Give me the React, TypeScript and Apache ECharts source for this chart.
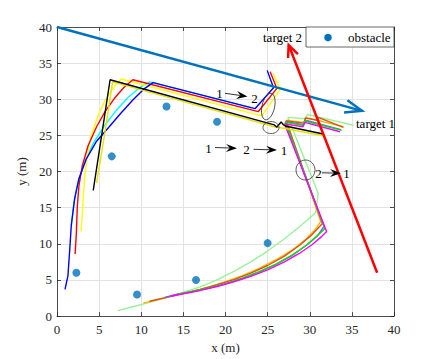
import React, { useEffect, useRef } from "react";
import * as echarts from "echarts";

const FONT = '"Liberation Serif", "Times New Roman", serif';

// obstacles (x, y in m)
const obstacles = [[2.3, 6], [6.5, 22.1], [9.5, 3], [13, 29], [16.5, 5], [19, 26.9], [25, 10.1]];

// target trajectories (start -> arrow tip)
const target1Path = [[0, 40], [36.2, 28.4]];
const target2Path = [[38, 6], [27.5, 37.5]];

// group 1 trajectories
const blueTraj = [[0.95, 3.7], [1.3, 5.6], [1.5, 9], [1.7, 12.6], [2.1, 16.3], [2.6, 19], [3.5, 21.8], [4.7, 24.2], [6.2, 26.2], [7.6, 28.1], [9.0, 29.9], [10.3, 31.4], [11.4, 32.3], [23.5, 28.7], [25.7, 31.6], [24.95, 34.0]];
const cyanTraj = [[1.7, 12.5], [2.0, 15.6], [2.5, 18.6], [3.3, 21.4], [4.3, 23.9], [5.6, 26.3], [7.0, 28.4], [8.4, 30.2], [9.8, 31.6], [11.0, 32.4], [11.4, 32.3], [23.0, 28.85]];
const redTraj = [[2.15, 8.6], [2.3, 11.5], [2.4, 15], [2.6, 18], [3.0, 20.8], [3.7, 23.6], [4.7, 26.2], [5.7, 28.3], [6.8, 30.1], [7.9, 31.6], [9.0, 32.7], [23.9, 28.3], [26.1, 31.5], [25.3, 33.8]];
const yellowTraj = [[2.85, 11.7], [3.0, 14], [3.15, 17], [3.3, 19.5], [3.6, 22.2], [4.1, 25.1], [4.9, 27.8], [5.7, 29.8], [6.5, 31.3], [7.6, 32.8], [24.3, 27.7], [26.5, 31.4], [25.65, 33.6]];
const yellow2Traj = [[4.7, 18.4], [5.7, 25.5], [6.6, 32.4], [25.8, 26.2], [27.1, 25.95], [31.6, 24.95]];
const blackTraj = [[4.3, 17.4], [5.3, 25], [6.3, 32.7], [25.8, 26.45], [26.1, 26.15], [26.35, 26.5], [26.6, 26.85], [26.85, 26.5], [27.1, 26.3], [31.6, 25.2]];

// group 2 trajectories
const lightGreenTraj = [[7.2, 0.75], [9, 1.3], [11, 1.9], [13, 2.55], [15, 3.3], [17, 4.05], [19, 5.0], [21, 6.2], [23, 7.5], [25, 9.0], [27, 10.7], [28.6, 12.2], [29.8, 13.4], [30.7, 14.3], [31.0, 17.0], [27.4, 27.5], [29.5, 27.3], [29.7, 27.9], [35.2, 26.4]];
const goldTraj = [[10.25, 1.8], [12, 2.3], [14, 2.85], [16, 3.4], [18, 4.0], [20, 4.75], [22, 5.6], [24, 6.6], [26, 7.8], [28, 9.2], [29.5, 10.6], [30.6, 11.9], [31.3, 13.1], [27.2, 27.1], [29.3, 26.8], [29.5, 27.5], [34.0, 26.2]];
const darkOrangeTraj = [[11, 2.05], [13, 2.6], [15, 3.15], [17, 3.7], [19, 4.35], [21, 5.05], [23, 5.95], [25, 7.0], [27, 8.3], [28.8, 9.8], [30.2, 11.2], [31.5, 12.8], [27.2, 27.0], [29.3, 26.7], [29.5, 27.4], [30.9, 27.1], [31.0, 27.5], [34.0, 26.1]];
const purpleTraj = [[12.8, 2.6], [14, 2.95], [16, 3.35], [18, 3.85], [20, 4.45], [22, 5.2], [24, 6.1], [26, 7.15], [28, 8.45], [29.6, 9.8], [30.9, 11.1], [31.7, 12.4], [27.1, 26.9], [29.3, 26.5], [29.5, 27.1], [33.7, 25.8]];
const greenTraj = [[14.2, 3.0], [16, 3.4], [18, 3.9], [20, 4.5], [22, 5.25], [24, 6.15], [26, 7.2], [28, 8.5], [29.6, 9.8], [30.8, 11.0], [31.8, 12.1], [27.1, 26.8], [29.2, 26.4], [29.4, 27.0], [33.8, 25.7]];
const magentaTraj = [[13.5, 2.75], [15, 3.1], [17, 3.55], [19, 4.1], [21, 4.75], [23, 5.5], [25, 6.4], [27, 7.5], [28.8, 8.7], [30.3, 9.9], [31.4, 11.0], [32.0, 11.7], [27.0, 26.6], [29.2, 26.2], [29.4, 26.8], [33.6, 25.5]];

const trajectories = [
  { data: lightGreenTraj, color: "#99F299" },
  { data: goldTraj, color: "#FFB300" },
  { data: darkOrangeTraj, color: "#D95319" },
  { data: purpleTraj, color: "#7B5CF0" },
  { data: greenTraj, color: "#00E600" },
  { data: magentaTraj, color: "#FF00FF" },
  { data: cyanTraj, color: "#00FFFF" },
  { data: yellowTraj, color: "#FFFF00" },
  { data: redTraj, color: "#FF0000" },
  { data: blueTraj, color: "#0000FF" },
  { data: yellow2Traj, color: "#E8E000" },
  { data: blackTraj, color: "#000000" },
];

function makeAxis(pos: string, main: boolean, name?: string) {
  return {
    type: "value",
    min: 0,
    max: 40,
    interval: 5,
    position: pos,
    name: main ? name : undefined,
    nameLocation: "middle",
    nameGap: pos === "bottom" ? 21 : 20,
    nameTextStyle: { fontFamily: FONT, fontSize: 13, color: "#262626" },
    axisLine: { show: true, onZero: false, lineStyle: { color: "#262626", width: 0.8 } },
    axisTick: { show: true, inside: true, length: 4, lineStyle: { color: "#262626", width: 0.8 } },
    axisLabel: { show: main, fontFamily: FONT, fontSize: 13, color: "#262626", margin: pos === "bottom" ? 7 : 5 },
    splitLine: { show: main, lineStyle: { color: "#e3e3e3", width: 1 } },
  };
}

function txt(x: number, y: number, text: string, align = "center", size = 13) {
  return {
    type: "text",
    x,
    y,
    z: 80,
    silent: true,
    style: {
      text,
      fill: "#000",
      fontSize: size,
      fontFamily: FONT,
      align,
      verticalAlign: "middle",
      textAlign: align,
      textVerticalAlign: "middle",
    },
  };
}

function annArrow(x1: number, y1: number, x2: number, y2: number) {
  const dx = x2 - x1, dy = y2 - y1;
  const L = Math.hypot(dx, dy);
  const ux = dx / L, uy = dy / L, nx = -uy, ny = ux;
  const hl = 11, hw = 4;
  const bx = x2 - ux * hl, by = y2 - uy * hl;
  const cx = x2 - ux * hl * 0.65, cy = y2 - uy * hl * 0.65;
  return [
    { type: "line", z: 60, silent: true, shape: { x1, y1, x2: cx, y2: cy }, style: { stroke: "#000", lineWidth: 0.8 } },
    {
      type: "polygon", z: 60, silent: true,
      shape: { points: [[x2, y2], [bx + nx * hw, by + ny * hw], [cx, cy], [bx - nx * hw, by - ny * hw]] },
      style: { fill: "#000" },
    },
  ];
}

function ellipse(x: number, y: number, rx: number, ry: number, rot = 0) {
  return {
    type: "ellipse", z: 60, silent: true, x, y, rotation: rot,
    shape: { cx: 0, cy: 0, rx, ry },
    style: { fill: "none", stroke: "#333", lineWidth: 0.8 },
  };
}

export default function App() {
  const ref = useRef<HTMLDivElement>(null);
  useEffect(() => {
    if (!ref.current) return;
    const chart = echarts.init(ref.current, null, { renderer: "svg" });
    const series: any[] = trajectories.map((t) => ({
      type: "line",
      data: t.data,
      symbol: "none",
      showSymbol: false,
      silent: true,
      lineStyle: { color: t.color, width: 1.4 },
      z: 3,
    }));
    series.push(
      { type: "line", data: target1Path, symbol: "none", silent: true, lineStyle: { color: "#0072BD", width: 2.5 }, z: 4 },
      { type: "line", data: target2Path, symbol: "none", silent: true, lineStyle: { color: "#FF0000", width: 2.5 }, z: 4 },
      { type: "scatter", data: obstacles, symbolSize: 8, itemStyle: { color: "#0072BD" }, silent: true, z: 5 }
    );
    chart.setOption({
      animation: false,
      backgroundColor: "#fff",
      grid: { left: 57, right: 42, top: 27, bottom: 40 },
      xAxis: [makeAxis("bottom", true, "x (m)"), makeAxis("top", false)],
      yAxis: [makeAxis("left", true, "y (m)"), makeAxis("right", false)],
      series,
    });

    const px = (p: number[]) => chart.convertToPixel({ gridIndex: 0 }, p) as number[];
    const head = (path: number[][], len: number, ang: number, color: string) => {
      const a = px(path[0]), b = px(path[1]);
      const dx = b[0] - a[0], dy = b[1] - a[1];
      const L = Math.hypot(dx, dy);
      const bxu = -dx / L, byu = -dy / L;
      const rot = (s: number) => {
        const c = Math.cos(s * ang), sn = Math.sin(s * ang);
        return [b[0] + len * (bxu * c - byu * sn), b[1] + len * (bxu * sn + byu * c)];
      };
      return {
        type: "polyline", z: 55, silent: true,
        shape: { points: [rot(1), b, rot(-1)] },
        style: { stroke: color, lineWidth: 2.5, fill: "none" },
      };
    };

    const elements: any[] = [
      head(target1Path, 18, 0.36, "#0072BD"),
      head(target2Path, 13, 0.42, "#FF0000"),
      // legend
      { type: "rect", z: 70, silent: true, shape: { x: 306, y: 27, width: 88, height: 20 }, style: { fill: "#fff", stroke: "#262626", lineWidth: 0.7 } },
      { type: "circle", z: 71, silent: true, shape: { cx: 328, cy: 37.5, r: 3.8 }, style: { fill: "#0072BD" } },
      txt(348, 37.5, "obstacle", "left"),
      txt(263, 37, "target 2", "left"),
      txt(356, 123.5, "target 1", "left"),
      // annotation 1
      txt(219.5, 93, "1"),
      ...annArrow(225, 93.3, 247.5, 96.5),
      txt(254.5, 98, "2"),
      ellipse(268.3, 106.5, 6.3, 13.5, -0.22),
      // annotation 2
      ellipse(271, 127.5, 8, 6),
      txt(208.5, 148, "1"),
      ...annArrow(215, 147.5, 237, 148.3),
      txt(246.5, 149, "2"),
      ...annArrow(253.5, 149.3, 277, 150),
      txt(284, 150, "1"),
      // annotation 3
      ellipse(305.5, 170, 9.5, 10),
      txt(318.5, 173, "2"),
      ...annArrow(322, 172.8, 341, 173.2),
      txt(346.5, 173.5, "1"),
    ];
    chart.setOption({ graphic: { elements } });
    return () => chart.dispose();
  }, []);
  return (
    <div
      ref={ref}
      style={{ position: "fixed", left: 0, top: 0, width: 436, height: 359, background: "#fff" }}
    />
  );
}
